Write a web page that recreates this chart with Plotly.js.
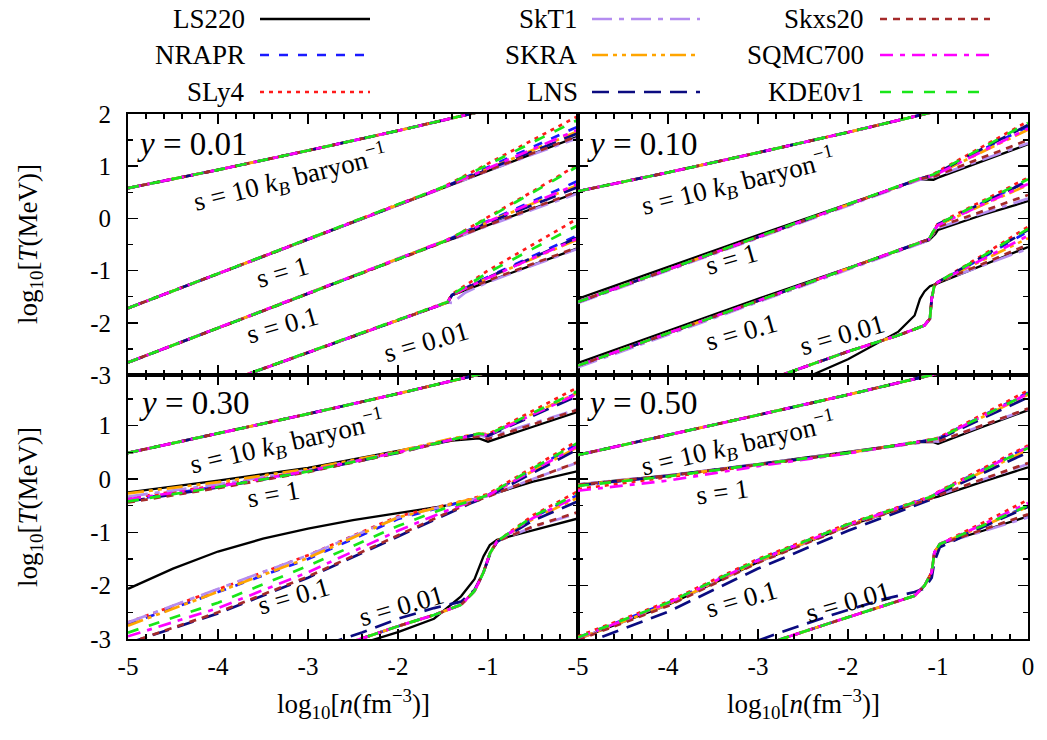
<!DOCTYPE html>
<html><head><meta charset="utf-8">
<script src="https://cdn.plot.ly/plotly-3.0.1.min.js"></script>
<style>html,body{margin:0;padding:0;background:#fff}#chart{width:1047px;height:740px}</style>
</head><body><div id="chart"></div>
<script>
// ---------------- data ----------------
const MODELS = ['LS220','NRAPR','SLy4','SkT1','SKRA','LNS','Skxs20','SQMC700','KDE0v1'];
const PANEL_LABELS = ['<i>y</i> = 0.01','<i>y</i> = 0.10','<i>y</i> = 0.30','<i>y</i> = 0.50'];
const ENTROPY_LABELS = ['s = 10 <i>k</i><sub><i>B</i></sub> baryon<sup>\u22121</sup>','s = 1','s = 0.1','s = 0.01'];
const X_TICKS = [-5,-4,-3,-2,-1,0];
const X_TICKTEXT = ['-5','-4','-3','-2','-1','0'];
const X_TICKS_LEFT = [-5,-4,-3,-2,-1];
const X_TICKTEXT_LEFT = ['-5','-4','-3','-2','-1'];
const Y_TICKS = [-3,-2,-1,0,1,2];
const Y_TICKTEXT = ['-3','-2','-1','0','1','2'];
const Y_TICKS_LOW = [-3,-2,-1,0,1];
const Y_TICKTEXT_LOW = ['-3','-2','-1','0','1'];

// s = 10 (all nine models coincide)
const S10_X = [-5,-4,-3,-2,-1,0];
const TL_S10_Y = [0.58,0.93,1.30,1.68,2.08,2.48];
const TR_S10_Y = [0.52,0.88,1.26,1.65,2.06,2.46];
const BL_S10_Y = [0.49,0.85,1.22,1.60,2.00,2.40];
const BR_S10_Y = [0.45,0.82,1.20,1.58,1.98,2.38];

// y = 0.01 (top left); rows in MODELS order
const TL_S1_X = [-5,-3,-1.5,-1,-0.5,0];
const TL_S1_Y = [
 [-1.72,-0.40,0.59,0.92,1.25,1.57],
 [-1.72,-0.40,0.59,0.98,1.37,1.76],
 [-1.72,-0.40,0.60,1.05,1.50,1.96],
 [-1.72,-0.40,0.59,0.91,1.23,1.54],
 [-1.72,-0.40,0.59,0.95,1.31,1.67],
 [-1.72,-0.40,0.59,0.94,1.29,1.63],
 [-1.72,-0.40,0.59,0.92,1.25,1.58],
 [-1.72,-0.40,0.59,0.96,1.33,1.70],
 [-1.72,-0.40,0.60,1.03,1.46,1.89]];
const TL_S01_X = [-5,-3,-1.5,-1.35,-1,-0.5,0];
const TL_S01_Y = [
 [-2.76,-1.44,-0.45,-0.37,-0.13,0.19,0.50],
 [-2.76,-1.44,-0.45,-0.33,-0.05,0.33,0.72],
 [-2.76,-1.44,-0.45,-0.32,0.02,0.52,1.03],
 [-2.76,-1.44,-0.45,-0.37,-0.14,0.17,0.48],
 [-2.76,-1.44,-0.45,-0.34,-0.07,0.28,0.64],
 [-2.76,-1.44,-0.45,-0.35,-0.08,0.26,0.60],
 [-2.76,-1.44,-0.45,-0.36,-0.12,0.20,0.52],
 [-2.76,-1.44,-0.45,-0.34,-0.06,0.30,0.66],
 [-2.76,-1.44,-0.45,-0.32,0.01,0.50,1.00]];
const TL_S001_X = [-5,-3,-1.45,-1.4,-1.25,-1,-0.5,0];
const TL_S001_Y = [
 [-3.81,-2.57,-1.61,-1.47,-1.37,-1.21,-0.89,-0.57],
 [-3.81,-2.57,-1.61,-1.47,-1.33,-1.12,-0.72,-0.32],
 [-3.81,-2.57,-1.60,-1.45,-1.28,-1.00,-0.50,0.00],
 [-3.81,-2.57,-1.61,-1.62,-1.42,-1.22,-0.90,-0.58],
 [-3.81,-2.57,-1.61,-1.47,-1.34,-1.14,-0.77,-0.40],
 [-3.81,-2.57,-1.61,-1.47,-1.34,-1.13,-0.75,-0.36],
 [-3.81,-2.57,-1.61,-1.47,-1.36,-1.19,-0.87,-0.55],
 [-3.81,-2.57,-1.61,-1.47,-1.34,-1.14,-0.76,-0.38],
 [-3.81,-2.57,-1.60,-1.46,-1.30,-1.04,-0.58,-0.13]];

// y = 0.10 (top right)
const TR_S1_X = [-5,-3,-1.2,-1.05,-1,-0.5,0];
const TR_S1_Y = [
 [-1.54,-0.32,0.75,0.74,0.78,1.10,1.42],
 [-1.60,-0.36,0.76,0.83,0.88,1.32,1.76],
 [-1.60,-0.36,0.77,0.85,0.90,1.38,1.86],
 [-1.62,-0.38,0.74,0.79,0.82,1.13,1.44],
 [-1.60,-0.36,0.76,0.82,0.86,1.28,1.70],
 [-1.60,-0.36,0.76,0.83,0.88,1.34,1.79],
 [-1.60,-0.36,0.76,0.80,0.83,1.17,1.50],
 [-1.60,-0.36,0.76,0.82,0.86,1.29,1.72],
 [-1.60,-0.36,0.77,0.84,0.89,1.36,1.83]];
const TR_S01_X = [-5,-3,-1.1,-1.03,-1,-0.5,0];
const TR_S01_Y = [
 [-2.77,-1.54,-0.42,-0.30,-0.22,0.07,0.33],
 [-2.82,-1.58,-0.40,-0.20,-0.12,0.30,0.72],
 [-2.82,-1.58,-0.40,-0.18,-0.10,0.34,0.78],
 [-2.85,-1.61,-0.42,-0.24,-0.18,0.10,0.38],
 [-2.82,-1.58,-0.40,-0.20,-0.13,0.26,0.64],
 [-2.82,-1.58,-0.40,-0.19,-0.11,0.30,0.71],
 [-2.82,-1.58,-0.40,-0.22,-0.16,0.14,0.45],
 [-2.82,-1.58,-0.40,-0.20,-0.13,0.27,0.66],
 [-2.82,-1.58,-0.40,-0.18,-0.11,0.32,0.75]];
const TR_S001_X = [-2.9,-2.74,-2.4,-2.0,-1.44,-1.26,-1.2,-1.15,-1.09,-1.07,-1.04,-1.0,-0.5,0];
const TR_S001_Y = [
 [-3.40,-3.26,-3.00,-2.70,-2.17,-1.86,-1.54,-1.40,-1.30,-1.29,-1.27,-1.24,-0.90,-0.55],
 [-3.10,-3.00,-2.79,-2.55,-2.24,-2.12,-2.08,-2.05,-1.92,-1.54,-1.28,-1.22,-0.75,-0.25],
 [-3.10,-3.00,-2.79,-2.55,-2.24,-2.12,-2.08,-2.05,-1.92,-1.54,-1.28,-1.22,-0.70,-0.16],
 [-3.10,-3.00,-2.79,-2.55,-2.24,-2.12,-2.08,-2.05,-1.92,-1.54,-1.28,-1.22,-0.90,-0.58],
 [-3.10,-3.00,-2.79,-2.55,-2.24,-2.12,-2.08,-2.05,-1.92,-1.54,-1.28,-1.22,-0.80,-0.38],
 [-3.10,-3.00,-2.79,-2.55,-2.24,-2.12,-2.08,-2.05,-1.92,-1.54,-1.28,-1.22,-0.73,-0.22],
 [-3.10,-3.00,-2.79,-2.55,-2.24,-2.12,-2.08,-2.05,-1.92,-1.54,-1.28,-1.22,-0.87,-0.50],
 [-3.10,-3.00,-2.79,-2.55,-2.24,-2.12,-2.08,-2.05,-1.92,-1.54,-1.28,-1.22,-0.78,-0.33],
 [-3.10,-3.00,-2.79,-2.55,-2.24,-2.12,-2.08,-2.05,-1.92,-1.54,-1.28,-1.22,-0.72,-0.20]];

// y = 0.30 (bottom left)
const BL_S1_X = [-5,-4,-3,-2,-1.4,-1.1,-1,-0.5,0];
const BL_S1_Y = [
 [-0.25,-0.03,0.21,0.52,0.72,0.76,0.70,0.98,1.26],
 [-0.40,-0.14,0.15,0.50,0.74,0.84,0.82,1.22,1.62],
 [-0.36,-0.12,0.16,0.51,0.75,0.85,0.84,1.28,1.72],
 [-0.33,-0.10,0.17,0.51,0.74,0.82,0.78,1.05,1.31],
 [-0.27,-0.06,0.19,0.52,0.76,0.85,0.83,1.23,1.62],
 [-0.42,-0.16,0.14,0.49,0.74,0.84,0.81,1.19,1.56],
 [-0.44,-0.17,0.13,0.49,0.73,0.80,0.75,1.02,1.30],
 [-0.38,-0.14,0.15,0.50,0.74,0.84,0.82,1.21,1.60],
 [-0.42,-0.15,0.14,0.50,0.74,0.85,0.83,1.24,1.65]];
const BL_S01_X = [-5,-4,-3,-2,-1.5,-1.2,-1,-0.5,0];
const BL_S01_LS220_X = [-5,-4.5,-4,-3.5,-3,-2.5,-2,-1.5,-1.2,-1,-0.5,0];
const BL_S01_LS220_Y = [-2.06,-1.68,-1.36,-1.12,-0.93,-0.77,-0.64,-0.51,-0.40,-0.31,-0.05,0.15];
const BL_S01_Y = [
 null, // LS220 has its own finer curve above
 [-2.72,-2.12,-1.50,-0.75,-0.52,-0.40,-0.30,0.18,0.66],
 [-2.69,-2.07,-1.43,-0.70,-0.50,-0.38,-0.28,0.22,0.72],
 [-2.69,-2.06,-1.43,-0.72,-0.51,-0.40,-0.32,0.00,0.31],
 [-2.75,-2.12,-1.48,-0.72,-0.51,-0.39,-0.30,0.15,0.60],
 [-3.08,-2.52,-1.85,-1.07,-0.68,-0.46,-0.33,0.12,0.56],
 [-3.08,-2.50,-1.83,-1.05,-0.67,-0.45,-0.33,0.00,0.32],
 [-2.95,-2.42,-1.75,-0.97,-0.62,-0.44,-0.31,0.16,0.62],
 [-2.88,-2.32,-1.63,-0.88,-0.56,-0.42,-0.30,0.20,0.68]];
const BL_S001_X = [-2.8,-2.4,-2.0,-1.6,-1.3,-1.15,-1.05,-0.98,-0.9,-0.5,0];
const BL_S001_Y = [
 [-3.35,-3.08,-2.87,-2.62,-2.20,-1.88,-1.45,-1.24,-1.14,-0.96,-0.74],
 [-3.22,-2.99,-2.76,-2.55,-2.36,-2.10,-1.75,-1.40,-1.17,-0.72,-0.30],
 [-3.22,-2.99,-2.76,-2.55,-2.36,-2.10,-1.75,-1.40,-1.17,-0.68,-0.23],
 [-3.22,-2.99,-2.76,-2.55,-2.36,-2.10,-1.75,-1.40,-1.17,-0.90,-0.64],
 [-3.22,-2.99,-2.76,-2.55,-2.36,-2.10,-1.75,-1.40,-1.17,-0.75,-0.35],
 [-3.10,-2.88,-2.62,-2.42,-2.30,-2.08,-1.75,-1.42,-1.18,-0.78,-0.42],
 [-3.22,-2.99,-2.76,-2.55,-2.36,-2.10,-1.75,-1.40,-1.17,-0.89,-0.62],
 [-3.22,-2.99,-2.76,-2.55,-2.36,-2.10,-1.75,-1.40,-1.17,-0.73,-0.32],
 [-3.22,-2.99,-2.76,-2.55,-2.36,-2.10,-1.75,-1.40,-1.17,-0.70,-0.27]];

// y = 0.50 (bottom right)
const BR_S1_X = [-5,-4,-3,-2,-1.2,-1.05,-1,-0.5,0];
const BR_S1_Y = [
 [-0.10,0.07,0.28,0.50,0.69,0.69,0.66,0.98,1.29],
 [-0.12,0.06,0.27,0.49,0.70,0.75,0.76,1.19,1.62],
 [-0.19,0.03,0.26,0.49,0.70,0.75,0.77,1.22,1.66],
 [-0.10,0.07,0.28,0.50,0.69,0.71,0.70,1.01,1.31],
 [-0.11,0.06,0.27,0.49,0.70,0.75,0.75,1.17,1.58],
 [-0.12,0.06,0.27,0.49,0.70,0.74,0.74,1.14,1.53],
 [-0.11,0.06,0.27,0.49,0.69,0.71,0.70,1.01,1.32],
 [-0.22,-0.03,0.24,0.48,0.70,0.75,0.76,1.18,1.60],
 [-0.13,0.05,0.27,0.49,0.70,0.75,0.76,1.18,1.60]];
const BR_S01_X = [-5,-4,-3,-2,-1.07,-1.0,-0.5,0];
const BR_S01_Y = [
 [-3.00,-2.36,-1.56,-0.88,-0.36,-0.33,-0.05,0.22],
 [-2.97,-2.32,-1.52,-0.85,-0.33,-0.25,0.18,0.60],
 [-2.95,-2.30,-1.50,-0.84,-0.32,-0.24,0.20,0.63],
 [-3.00,-2.36,-1.56,-0.88,-0.35,-0.30,-0.01,0.28],
 [-3.00,-2.35,-1.55,-0.87,-0.34,-0.27,0.14,0.55],
 [-3.13,-2.49,-1.68,-0.97,-0.38,-0.28,0.11,0.50],
 [-3.02,-2.38,-1.57,-0.89,-0.36,-0.31,0.00,0.30],
 [-2.98,-2.33,-1.53,-0.86,-0.33,-0.25,0.17,0.60],
 [-2.97,-2.32,-1.52,-0.85,-0.33,-0.25,0.16,0.58]];
const BR_S001_X = [-3.0,-2.74,-2.18,-1.6,-1.26,-1.15,-1.07,-1.04,-0.98,-0.5,0];
const BR_S001_Y = [
 [-3.16,-3.00,-2.69,-2.37,-2.19,-2.00,-1.75,-1.375,-1.22,-0.97,-0.70],
 [-3.16,-3.00,-2.69,-2.37,-2.19,-2.00,-1.75,-1.375,-1.22,-0.88,-0.50],
 [-3.16,-3.00,-2.69,-2.37,-2.19,-2.00,-1.75,-1.375,-1.22,-0.82,-0.39],
 [-3.16,-3.00,-2.69,-2.37,-2.19,-2.00,-1.75,-1.375,-1.22,-0.98,-0.72],
 [-3.16,-3.00,-2.69,-2.37,-2.19,-2.00,-1.75,-1.375,-1.22,-0.88,-0.52],
 [-3.03,-2.87,-2.55,-2.25,-2.12,-2.05,-1.85,-1.55,-1.28,-0.90,-0.52],
 [-3.16,-3.00,-2.69,-2.37,-2.19,-2.00,-1.75,-1.375,-1.22,-0.95,-0.66],
 [-3.16,-3.00,-2.69,-2.37,-2.19,-2.00,-1.75,-1.375,-1.22,-0.85,-0.45],
 [-3.16,-3.00,-2.69,-2.37,-2.19,-2.00,-1.75,-1.375,-1.22,-0.87,-0.50]];

// ---------------- styles ----------------
const STYLE = {
  LS220:  {color:'#000000', dash:'solid', width:2.3},
  NRAPR:  {color:'#1a1aff', dash:'9px,10px', width:2.7},
  SLy4:   {color:'#ff1a1a', dash:'4px,5px', width:2.7},
  SkT1:   {color:'#b48cf0', dash:'20px,7px,5px,7px', width:2.7},
  SKRA:   {color:'#ffa500', dash:'16px,5px,4px,5px,4px,5px', width:2.7},
  LNS:    {color:'#0b0b80', dash:'17px,9px', width:2.7},
  Skxs20: {color:'#a52a2a', dash:'7px,6px', width:2.7},
  SQMC700:{color:'#ff00ff', dash:'13px,7px,5px,7px', width:2.7},
  KDE0v1: {color:'#19e619', dash:'11px,11px', width:2.7}
};

const groups = [
  {p:0, x:S10_X, single:TL_S10_Y}, {p:0, x:TL_S1_X, rows:TL_S1_Y}, {p:0, x:TL_S01_X, rows:TL_S01_Y}, {p:0, x:TL_S001_X, rows:TL_S001_Y},
  {p:1, x:S10_X, single:TR_S10_Y}, {p:1, x:TR_S1_X, rows:TR_S1_Y}, {p:1, x:TR_S01_X, rows:TR_S01_Y}, {p:1, x:TR_S001_X, rows:TR_S001_Y},
  {p:2, x:S10_X, single:BL_S10_Y}, {p:2, x:BL_S1_X, rows:BL_S1_Y},
  {p:2, x:BL_S01_X, rows:BL_S01_Y, own:{0:[BL_S01_LS220_X, BL_S01_LS220_Y]}}, {p:2, x:BL_S001_X, rows:BL_S001_Y},
  {p:3, x:S10_X, single:BR_S10_Y}, {p:3, x:BR_S1_X, rows:BR_S1_Y}, {p:3, x:BR_S01_X, rows:BR_S01_Y}, {p:3, x:BR_S001_X, rows:BR_S001_Y}
];
const AX = [['x','y'],['x2','y2'],['x3','y3'],['x4','y4']];

const traces = [];
groups.forEach(g => {
  MODELS.forEach((m, i) => {
    const st = STYLE[m];
    let xs = g.x, ys = g.single ? g.single : g.rows[i];
    if (g.own && g.own[i]) { xs = g.own[i][0]; ys = g.own[i][1]; }
    traces.push({
      type:'scatter', mode:'lines', x:xs, y:ys,
      xaxis:AX[g.p][0], yaxis:AX[g.p][1], name:m, showlegend:false, hoverinfo:'skip',
      line:{color:st.color, dash:st.dash, width:st.width, shape:'linear'}
    });
  });
});

// legend samples (drawn on a hidden pixel-like axis)
const LEG_COLS = [[247,260,370],[580,592,700],[866,880,990]];
const LEG_ROWS = [19,55,92];
const legendAnn = [];
MODELS.forEach((m, i) => {
  const c = LEG_COLS[Math.floor(i/3)], r = LEG_ROWS[i%3];
  const st = STYLE[m];
  traces.push({type:'scatter', mode:'lines', x:[c[1],c[2]], y:[r,r], xaxis:'x5', yaxis:'y5',
    showlegend:false, hoverinfo:'skip', line:{color:st.color, dash:st.dash, width:st.width}});
  legendAnn.push({xref:'x5', yref:'y5', x:c[0], y:r, text:m, showarrow:false, xanchor:'right', yanchor:'middle',
    font:{family:'Liberation Serif, serif', size:27, color:'#000'}});
});

const FONT = 'Liberation Serif, serif';
const XD = [[128/1047, 578/1047],[578/1047, 1028/1047]];
const YD = [[1-375/740, 1-114/740],[1-639/740, 1-375/740]];

function xax(domain, anchor, vals, labels){
  return {domain:domain, anchor:anchor, range:[-5,0], tickmode:'array', tickvals:vals,
    ticktext: labels || vals.map(String), showticklabels: !!labels,
    ticks:'inside', ticklen:10, tickwidth:1.6, tickcolor:'#000', mirror:'allticks', showline:true, linewidth:2, linecolor:'#000',
    showgrid:false, zeroline:false, ticklabelstandoff:4,
    minor:{tickmode:'linear', tick0:-5, dtick:0.2, ticks:'inside', ticklen:5, tickwidth:1.3, tickcolor:'#000', showgrid:false},
    tickfont:{family:FONT, size:25, color:'#000'}};
}
function yax(domain, anchor, range, vals, labels){
  return {domain:domain, anchor:anchor, range:range, tickmode:'array', tickvals:vals,
    ticktext: labels || vals.map(String), showticklabels: !!labels,
    ticks:'inside', ticklen:10, tickwidth:1.6, tickcolor:'#000', mirror:'allticks', showline:true, linewidth:2, linecolor:'#000',
    showgrid:false, zeroline:false, ticklabelstandoff:10,
    minor:{tickmode:'linear', tick0:-3, dtick:0.5, ticks:'inside', ticklen:5, tickwidth:1.3, tickcolor:'#000', showgrid:false},
    tickfont:{family:FONT, size:25, color:'#000'}};
}

const annotations = legendAnn.slice();
// panel labels
const PANEL_POS = [[-4.92,1.42],[-4.92,1.42],[-4.9,1.42],[-4.92,1.42]];
PANEL_LABELS.forEach((t,p) => annotations.push({xref:AX[p][0], yref:AX[p][1], x:PANEL_POS[p][0], y:PANEL_POS[p][1],
  text:t, showarrow:false, xanchor:'left', yanchor:'middle', font:{family:FONT, size:33, color:'#000'}}));
// entropy labels: [x, y, angle] per panel per s
const ENT_POS = [
  [[-3.2,0.78,-14],[-3.28,-1.03,-16],[-3.28,-2.05,-16],[-1.69,-2.37,-16]],
  [[-3.22,0.70,-14],[-3.29,-0.77,-16],[-3.18,-2.18,-16],[-2.07,-2.24,-16]],
  [[-3.23,0.69,-13],[-3.38,-0.28,-10],[-3.16,-2.19,-16],[-1.97,-2.375,-16]],
  [[-3.22,0.66,-13],[-3.40,-0.25,-8],[-3.18,-2.25,-16],[-2.0,-2.31,-16]]
];
ENT_POS.forEach((arr,p) => arr.forEach((pos,k) => annotations.push({xref:AX[p][0], yref:AX[p][1], x:pos[0], y:pos[1],
  text:ENTROPY_LABELS[k], textangle:pos[2], showarrow:false, xanchor:'center', yanchor:'middle',
  font:{family:FONT, size:27, color:'#000'}})));
// axis titles
const YTITLE = 'log<sub>10</sub>[<i>T</i>(MeV)]';
const XTITLE = 'log<sub>10</sub>[<i>n</i>(fm<sup>\u22123</sup>)]';
[244, 507].forEach(yc => annotations.push({xref:'paper', yref:'paper', x:30/1047, y:1-yc/740, text:YTITLE, textangle:-90,
  showarrow:false, xanchor:'center', yanchor:'middle', font:{family:FONT, size:27, color:'#000'}}));
[353, 803].forEach(xc => annotations.push({xref:'paper', yref:'paper', x:xc/1047, y:1-704/740, text:XTITLE,
  showarrow:false, xanchor:'center', yanchor:'middle', font:{family:FONT, size:27, color:'#000'}}));

const layout = {
  width:1047, height:740, margin:{l:0,r:0,t:0,b:0}, paper_bgcolor:'#fff', plot_bgcolor:'rgba(0,0,0,0)',
  showlegend:false, font:{family:FONT, color:'#000'},
  xaxis: xax(XD[0],'y', X_TICKS, null),
  yaxis: yax(YD[0],'x',[-3,2], Y_TICKS, Y_TICKTEXT),
  xaxis2: xax(XD[1],'y2', X_TICKS, null),
  yaxis2: yax(YD[0],'x2',[-3,2], Y_TICKS, null),
  xaxis3: xax(XD[0],'y3', X_TICKS_LEFT, X_TICKTEXT_LEFT),
  yaxis3: yax(YD[1],'x3',[-3,1.95], Y_TICKS_LOW, Y_TICKTEXT_LOW),
  xaxis4: xax(XD[1],'y4', X_TICKS, X_TICKTEXT),
  yaxis4: yax(YD[1],'x4',[-3,1.95], Y_TICKS_LOW, null),
  xaxis5: {domain:[0,1], anchor:'y5', range:[0,1047], visible:false, fixedrange:true},
  yaxis5: {domain:[0,1], anchor:'x5', range:[740,0], visible:false, fixedrange:true},
  annotations: annotations
};
Plotly.newPlot('chart', traces, layout, {staticPlot:true, displayModeBar:false});
</script></body></html>
